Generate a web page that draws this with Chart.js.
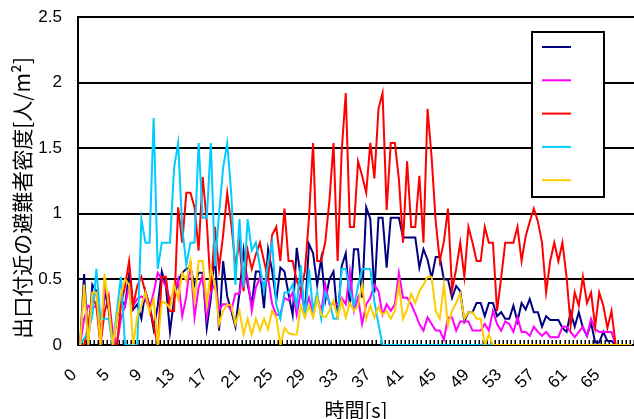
<!DOCTYPE html>
<html>
<head>
<meta charset="utf-8">
<script src="https://cdn.jsdelivr.net/npm/chart.js@4.4.1/dist/chart.umd.min.js"></script>
<style>
  html, body { margin: 0; padding: 0; background: #fff; overflow: hidden; }
  canvas { display: block; }
</style>
</head>
<body>
<canvas id="chart" width="634" height="419"></canvas>
<script>
// Elapsed time [s] for each sample
const times = [
  0, 1.5, 2, 2.5, 3, 3.5, 4, 4.5, 5, 5.5, 6, 6.5, 7, 7.5, 8, 8.5, 9, 9.5, 10, 10.5,
  11, 11.5, 12, 12.5, 13, 13.5, 14, 14.5, 15, 15.5, 16, 16.5, 17, 17.5, 18, 18.5, 19, 19.5, 20, 20.5,
  21, 21.5, 22, 22.5, 23, 23.5, 24, 24.5, 25, 25.5, 26, 26.5, 27, 27.5, 28, 28.5, 29, 29.5, 30, 30.5,
  31, 31.5, 32, 32.5, 33, 33.5, 34, 34.5, 35, 35.5, 36, 36.5, 37, 37.5, 38, 38.5, 39, 39.5, 40, 40.5,
  41, 41.5, 42, 42.5, 43, 43.5, 44, 44.5, 45, 45.5, 46, 46.5, 47, 47.5, 48, 48.5, 49, 49.5, 50, 50.5,
  51, 51.5, 52, 52.5, 53, 53.5, 54, 54.5, 55, 55.5, 56, 56.5, 57, 57.5, 58, 58.5, 59, 59.5, 60, 60.5,
  61, 61.5, 62, 62.5, 63, 63.5, 64, 64.5, 65, 65.5, 66, 66.5, 67, 67.5, 68, 68.5
];

// Evacuee density near the exit [persons/m2], one array per case
const caseNavy = [
  0, 0.54, 0, 0.46, 0.41, 0, 0.42, 0.27, 0, 0.2, 0.35, 0.3, 0.54, 0.27, 0.31, 0.2, 0.41, 0.3, 0.12, 0.3,
  0.56, 0.45, 0.1, 0.35, 0.49, 0.55, 0.58, 0.59, 0.46, 0.55, 0.55, 0.13, 0.36, 0.7, 0.11, 0.64, 0.37, 0.26, 0.14, 0.4,
  0.72, 0.46, 0.31, 0.56, 0.56, 0.28, 0.73, 0.56, 0.34, 0.59, 0.56, 0.39, 0.23, 0.74, 0.51, 0.23, 0.77, 0.7, 0.46, 0.66,
  0.34, 0.5, 0.56, 0.2, 0.6, 0.7, 0.3, 0.73, 0.73, 0.36, 1.05, 0.96, 0.4, 0.97, 0.97, 0.59, 0.97, 0.97, 0.97, 0.82,
  0.82, 0.82, 0.82, 0.59, 0.73, 0.65, 0.51, 0.67, 0.67, 0.5, 0.5, 0.36, 0.45, 0.41, 0.18, 0.25, 0.25, 0.32, 0.32, 0.22,
  0.32, 0.32, 0.22, 0.25, 0.2, 0.2, 0.3, 0.18, 0.32, 0.27, 0.35, 0.25, 0.25, 0.14, 0.22, 0.19, 0.19, 0.19, 0.13, 0.1,
  0.25, 0.14, 0.25, 0.13, 0.07, 0.17, 0.02, 0.02, 0.1, 0.03, 0.03, 0, 0, 0, 0, 0
];
const caseMagenta = [
  0, 0.2, 0.3, 0.28, 0.3, 0.1, 0.41, 0.37, 0.1, 0, 0.2, 0.3, 0.45, 0.3, 0.35, 0.37, 0.35, 0.27, 0.4, 0.55,
  0.5, 0.45, 0.34, 0.4, 0.5, 0.22, 0.37, 0.64, 0.21, 0.44, 0.53, 0.21, 0.41, 0.46, 0.27, 0.31, 0.31, 0.26, 0.39, 0.39,
  0.58, 0.51, 0.26, 0.44, 0.51, 0.46, 0.51, 0.31, 0.23, 0.23, 0.36, 0.34, 0.4, 0.23, 0.41, 0.26, 0.36, 0.23, 0.36, 0.26,
  0.46, 0.31, 0.31, 0.31, 0.36, 0.31, 0.56, 0.26, 0.36, 0.16, 0.31, 0.36, 0.46, 0.41, 0.23, 0.31, 0.26, 0.31, 0.55, 0.36,
  0.36, 0.31, 0.24, 0.16, 0.11, 0.21, 0.16, 0.11, 0.11, 0.04, 0.21, 0.21, 0.11, 0.18, 0.18, 0.18, 0.11, 0.11, 0.11, 0.16,
  0.11, 0.26, 0.16, 0.11, 0.18, 0.16, 0.1, 0.21, 0.1, 0.1, 0.07, 0.14, 0.1, 0.07, 0.1, 0.06, 0.06, 0.06, 0.14, 0.14,
  0.1, 0.06, 0.1, 0.14, 0.07, 0.2, 0.12, 0.1, 0.1, 0.1, 0.1, 0, 0, 0, 0, 0
];
const caseRed = [
  0, 0, 0.15, 0.37, 0.3, 0, 0.25, 0.37, 0, 0, 0.3, 0.45, 0.64, 0.3, 0.45, 0.52, 0.4, 0.3, 0.15, 0,
  0.52, 0.52, 0.26, 0.26, 1.05, 0.78, 1.16, 1.16, 1.05, 0.72, 1.28, 0.94, 0.41, 0.9, 0.58, 0.84, 1.16, 0.92, 0.61, 0.78,
  0.41, 0.72, 0.58, 0.69, 0.78, 0.64, 0.51, 0.84, 0.9, 0.64, 1.04, 0.64, 0.64, 0.49, 0.41, 0.56, 0.97, 1.54, 0.64, 0.64,
  0.79, 1.1, 1.54, 0.64, 1.48, 1.92, 0.9, 0.9, 1.4, 1.29, 1.16, 1.54, 1.27, 1.8, 1.92, 1.03, 1.54, 1.54, 1.26, 0.78,
  1.4, 0.9, 0.9, 1.29, 0.78, 1.8, 1.43, 0.94, 0.64, 0.79, 1.04, 0.42, 0.58, 0.78, 0.52, 0.9, 0.78, 0.64, 0.64, 0.9,
  0.78, 0.78, 0.26, 0.51, 0.78, 0.78, 0.78, 0.9, 0.64, 0.83, 0.94, 1.04, 0.94, 0.78, 0.4, 0.64, 0.78, 0.64, 0.78, 0.52,
  0.15, 0.4, 0.3, 0.52, 0.32, 0.4, 0.14, 0.4, 0.3, 0.13, 0.26, 0, 0, 0, 0, 0
];
const caseCyan = [
  0, 0.05, 0.1, 0.22, 0.58, 0.2, 0.2, 0.2, 0, 0.26, 0.52, 0, 0, 0, 0, 0.96, 0.78, 0.78, 1.73, 0.58,
  0.78, 0.78, 0.78, 1.35, 1.54, 0.89, 0.61, 0.78, 0.78, 1.54, 0.97, 0.97, 1.54, 0.6, 1.0, 1.35, 1.54, 1.15, 0.46, 0.96,
  0.44, 0.96, 0.72, 0.78, 0.6, 0.41, 0.63, 0.78, 0.31, 0.2, 0.4, 0.4, 0.46, 0.3, 0.61, 0.2, 0.58, 0.26, 0.4, 0.2,
  0.4, 0.33, 0.2, 0.2, 0.58, 0.58, 0.41, 0.3, 0.45, 0.58, 0.58, 0.58, 0.33, 0.16, 0, 0, 0, 0, 0, 0,
  0, 0, 0, 0, 0, 0, 0, 0, 0, 0, 0, 0, 0, 0, 0, 0, 0, 0, 0, 0,
  0, 0, 0, 0, 0, 0, 0, 0, 0, 0, 0, 0, 0, 0, 0, 0, 0, 0, 0, 0,
  0, 0, 0, 0, 0, 0, 0, 0, 0, 0, 0, 0, 0, 0, 0, 0
];
const caseYellow = [
  0, 0.46, 0, 0.4, 0.4, 0, 0.54, 0.3, 0, 0.2, 0.39, 0.5, 0.46, 0, 0.22, 0.3, 0.4, 0.25, 0.35, 0,
  0.33, 0.32, 0.28, 0.46, 0.35, 0.55, 0.49, 0.64, 0.34, 0.64, 0.64, 0.31, 0.58, 0.46, 0.16, 0.26, 0.31, 0.3, 0.16, 0.26,
  0.08, 0.2, 0.08, 0.2, 0.11, 0.2, 0.12, 0.26, 0.21, 0, 0.13, 0.09, 0.08, 0.08, 0.3, 0.21, 0.3, 0.21, 0.36, 0.23,
  0.21, 0.26, 0.34, 0.21, 0.34, 0.21, 0.32, 0.26, 0.3, 0.46, 0.2, 0.3, 0.21, 0.29, 0.23, 0.26, 0.2, 0.26, 0.46, 0.2,
  0.27, 0.39, 0.32, 0.41, 0.46, 0.52, 0.52, 0.26, 0.2, 0.46, 0.15, 0.26, 0.32, 0.39, 0.2, 0.25, 0.25, 0.2, 0.2, 0,
  0.08, 0, 0, 0, 0, 0, 0, 0, 0, 0, 0, 0, 0, 0, 0, 0, 0, 0, 0, 0,
  0, 0, 0, 0, 0, 0, 0, 0, 0, 0, 0, 0, 0, 0, 0, 0
];

const labelEvery = 8;
const yAxisTitle = '出口付近の避難者密度[人/m²]';
const xAxisTitle = '時間[s]';

const numFont = "'Liberation Sans', Arial, sans-serif";
const jpFont = "'Noto Sans CJK JP', sans-serif";

function line(data, color, order) {
  return {
    data, borderColor: color, backgroundColor: color, borderWidth: 2,
    pointRadius: 0, tension: 0, fill: false, order
  };
}

// Inward category tick marks, the boxed legend and the vertical axis title
const decorations = {
  id: 'decorations',
  beforeDatasetsDraw(chart) {
    const { ctx, scales: { x, y } } = chart;
    const step = x.width / times.length;
    ctx.save();
    ctx.strokeStyle = '#000';
    ctx.lineWidth = 1.5;
    ctx.beginPath();
    for (let k = 0; k <= times.length; k++) {
      const px = Math.round(x.left + k * step) + 0.25;
      ctx.moveTo(px, y.bottom);
      ctx.lineTo(px, y.bottom - 5);
    }
    ctx.stroke();
    ctx.restore();
  },
  afterDraw(chart) {
    const { ctx } = chart;
    ctx.save();
    // legend box
    const bx = 532, by = 32, bw = 72, bh = 165;
    ctx.fillStyle = '#fff';
    ctx.fillRect(bx, by, bw, bh);
    ctx.strokeStyle = '#000';
    ctx.lineWidth = 2;
    ctx.strokeRect(bx, by, bw, bh);
    chart.data.datasets.forEach((ds, k) => {
      const ly = 47 + k * 33.3;
      ctx.strokeStyle = ds.borderColor;
      ctx.lineWidth = 2;
      ctx.beginPath();
      ctx.moveTo(542, ly);
      ctx.lineTo(571, ly);
      ctx.stroke();
    });
    // y axis title
    ctx.translate(22, 198);
    ctx.rotate(-Math.PI / 2);
    ctx.fillStyle = '#000';
    ctx.font = '21px ' + jpFont;
    ctx.textAlign = 'center';
    ctx.textBaseline = 'middle';
    ctx.fillText(yAxisTitle, 0, 0);
    ctx.restore();
  }
};

new Chart(document.getElementById('chart'), {
  type: 'line',
  data: {
    labels: times,
    datasets: [
      line(caseNavy, '#000080', 5),
      line(caseMagenta, '#FF00FF', 4),
      line(caseRed, '#FF0000', 3),
      line(caseCyan, '#00CCFF', 2),
      line(caseYellow, '#FFCC00', 1)
    ]
  },
  options: {
    responsive: false,
    animation: false,
    devicePixelRatio: 1,
    layout: { padding: { top: 17, right: 0, bottom: 0, left: 0 } },
    plugins: { legend: { display: false }, tooltip: { enabled: false } },
    scales: {
      x: {
        type: 'category',
        offset: true,
        grid: { display: false },
        border: { display: true, color: '#000', width: 2 },
        ticks: {
          autoSkip: false,
          maxRotation: 45,
          minRotation: 45,
          padding: 12,
          labelOffset: -6,
          color: '#000',
          font: { family: numFont, size: 17 },
          callback: (v, i) => (i % labelEvery === 0 ? String(times[i]) : '')
        },
        title: {
          display: true,
          text: xAxisTitle,
          color: '#000',
          font: { family: jpFont, size: 20 },
          padding: { top: 0, bottom: -3 }
        },
        afterFit(scale) {
          scale.height = 74;
          scale.paddingLeft = 0;
          scale.paddingRight = 0;
        }
      },
      y: {
        min: 0,
        max: 2.5,
        grid: { color: '#000', lineWidth: 2, drawTicks: false },
        border: { display: true, color: '#000', width: 2 },
        ticks: {
          stepSize: 0.5,
          padding: 16,
          color: '#000',
          font: { family: numFont, size: 17 },
          callback: (v) => String(v)
        },
        afterFit(scale) {
          scale.width = 78;
          scale.paddingTop = 0;
          scale.paddingBottom = 0;
        }
      }
    }
  },
  plugins: [decorations]
});
</script>
</body>
</html>
